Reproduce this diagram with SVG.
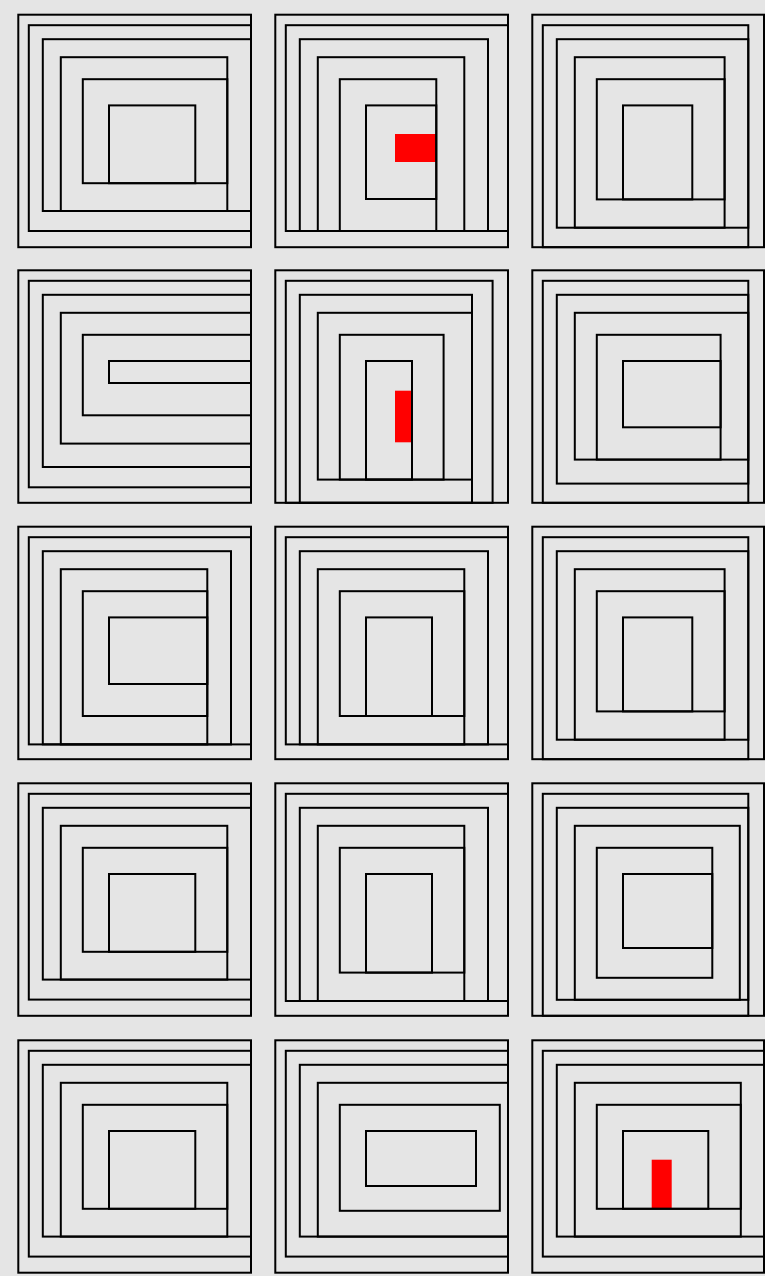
<svg xmlns="http://www.w3.org/2000/svg" width="765" height="1276" viewBox="0 0 765 1276">
<style>
rect.w{fill:none;stroke:#000;stroke-width:2}
rect.r{fill:#ff0000;stroke:none}
</style>
<rect x="0" y="0" width="765" height="1276" fill="#e5e5e5"/>
<g id="cell-0-0" transform="translate(18.3,14.7)">
<rect class="w" x="0" y="0" width="232.7" height="232.5"/>
<rect class="w" x="10.5" y="10.5" width="222.2" height="205.8"/>
<rect class="w" x="24.5" y="24.5" width="208.2" height="171.8"/>
<rect class="w" x="42.5" y="42.5" width="166.5" height="153.8"/>
<rect class="w" x="64.5" y="64.5" width="144.5" height="104"/>
<rect class="w" x="90.7" y="90.7" width="86.3" height="77.8"/>
</g>
<g id="cell-0-1" transform="translate(275.3,14.7)">
<rect class="r" x="119.7" y="119.3" width="41.3" height="28"/>
<rect class="w" x="0" y="0" width="232.7" height="232.5"/>
<rect class="w" x="10.5" y="10.5" width="222.2" height="205.8"/>
<rect class="w" x="24.5" y="24.5" width="188.2" height="191.8"/>
<rect class="w" x="42.5" y="42.5" width="146.5" height="173.8"/>
<rect class="w" x="64.5" y="64.5" width="96.5" height="151.8"/>
<rect class="w" x="90.7" y="90.7" width="70.3" height="93.6"/>
</g>
<g id="cell-0-2" transform="translate(532.3,14.7)">
<rect class="w" x="0" y="0" width="231.7" height="232.5"/>
<rect class="w" x="10.5" y="10.5" width="205.5" height="222"/>
<rect class="w" x="24.5" y="24.5" width="191.5" height="188.5"/>
<rect class="w" x="42.5" y="42.5" width="149.8" height="170.5"/>
<rect class="w" x="64.5" y="64.5" width="127.8" height="120.2"/>
<rect class="w" x="90.7" y="90.7" width="69.3" height="94"/>
</g>
<g id="cell-1-0" transform="translate(18.3,270.3)">
<rect class="w" x="0" y="0" width="232.7" height="232.5"/>
<rect class="w" x="10.5" y="10.5" width="222.2" height="206.5"/>
<rect class="w" x="24.5" y="24.5" width="208.2" height="172.2"/>
<rect class="w" x="42.5" y="42.5" width="190.2" height="130.8"/>
<rect class="w" x="64.5" y="64.5" width="168.2" height="80.5"/>
<rect class="w" x="90.7" y="90.7" width="142" height="22"/>
</g>
<g id="cell-1-1" transform="translate(275.3,270.3)">
<rect class="r" x="119.7" y="120.4" width="17" height="51.6"/>
<rect class="w" x="0" y="0" width="232.7" height="232.5"/>
<rect class="w" x="10.5" y="10.5" width="206.8" height="222"/>
<rect class="w" x="24.5" y="24.5" width="172.2" height="208"/>
<rect class="w" x="42.5" y="42.5" width="154.2" height="166.8"/>
<rect class="w" x="64.5" y="64.5" width="103.8" height="144.8"/>
<rect class="w" x="90.7" y="90.7" width="46" height="118.6"/>
</g>
<g id="cell-1-2" transform="translate(532.3,270.3)">
<rect class="w" x="0" y="0" width="231.7" height="232.5"/>
<rect class="w" x="10.5" y="10.5" width="205.5" height="222"/>
<rect class="w" x="24.5" y="24.5" width="191.5" height="188.8"/>
<rect class="w" x="42.5" y="42.5" width="173.5" height="146.8"/>
<rect class="w" x="64.5" y="64.5" width="123.8" height="124.8"/>
<rect class="w" x="90.7" y="90.7" width="97.6" height="66.3"/>
</g>
<g id="cell-2-0" transform="translate(18.3,526.7)">
<rect class="w" x="0" y="0" width="232.7" height="232.5"/>
<rect class="w" x="10.5" y="10.5" width="222.2" height="207.2"/>
<rect class="w" x="24.5" y="24.5" width="188.2" height="193.2"/>
<rect class="w" x="42.5" y="42.5" width="146.5" height="175.2"/>
<rect class="w" x="64.5" y="64.5" width="124.5" height="124.8"/>
<rect class="w" x="90.7" y="90.7" width="98.3" height="66.6"/>
</g>
<g id="cell-2-1" transform="translate(275.3,526.7)">
<rect class="w" x="0" y="0" width="232.7" height="232.5"/>
<rect class="w" x="10.5" y="10.5" width="222.2" height="207.2"/>
<rect class="w" x="24.5" y="24.5" width="188.2" height="193.2"/>
<rect class="w" x="42.5" y="42.5" width="146.5" height="175.2"/>
<rect class="w" x="64.5" y="64.5" width="124.5" height="124.8"/>
<rect class="w" x="90.7" y="90.7" width="66" height="98.6"/>
</g>
<g id="cell-2-2" transform="translate(532.3,526.7)">
<rect class="w" x="0" y="0" width="231.7" height="232.5"/>
<rect class="w" x="10.5" y="10.5" width="205.5" height="222"/>
<rect class="w" x="24.5" y="24.5" width="191.5" height="188.5"/>
<rect class="w" x="42.5" y="42.5" width="149.8" height="170.5"/>
<rect class="w" x="64.5" y="64.5" width="127.8" height="120.2"/>
<rect class="w" x="90.7" y="90.7" width="69.3" height="94"/>
</g>
<g id="cell-3-0" transform="translate(18.3,783.3)">
<rect class="w" x="0" y="0" width="232.7" height="232.5"/>
<rect class="w" x="10.5" y="10.5" width="222.2" height="205.8"/>
<rect class="w" x="24.5" y="24.5" width="208.2" height="171.8"/>
<rect class="w" x="42.5" y="42.5" width="166.5" height="153.8"/>
<rect class="w" x="64.5" y="64.5" width="144.5" height="104"/>
<rect class="w" x="90.7" y="90.7" width="86.3" height="77.8"/>
</g>
<g id="cell-3-1" transform="translate(275.3,783.3)">
<rect class="w" x="0" y="0" width="232.7" height="232.5"/>
<rect class="w" x="10.5" y="10.5" width="222.2" height="207.2"/>
<rect class="w" x="24.5" y="24.5" width="188.2" height="193.2"/>
<rect class="w" x="42.5" y="42.5" width="146.5" height="175.2"/>
<rect class="w" x="64.5" y="64.5" width="124.5" height="124.8"/>
<rect class="w" x="90.7" y="90.7" width="66" height="98.6"/>
</g>
<g id="cell-3-2" transform="translate(532.3,783.3)">
<rect class="w" x="0" y="0" width="231.7" height="232.5"/>
<rect class="w" x="10.5" y="10.5" width="205.5" height="222"/>
<rect class="w" x="24.5" y="24.5" width="191.5" height="192"/>
<rect class="w" x="42.5" y="42.5" width="165" height="174"/>
<rect class="w" x="64.5" y="64.5" width="115.5" height="130"/>
<rect class="w" x="90.7" y="90.7" width="89.3" height="74"/>
</g>
<g id="cell-4-0" transform="translate(18.3,1040.3)">
<rect class="w" x="0" y="0" width="232.7" height="232.4"/>
<rect class="w" x="10.5" y="10.5" width="222.2" height="205.8"/>
<rect class="w" x="24.5" y="24.5" width="208.2" height="171.8"/>
<rect class="w" x="42.5" y="42.5" width="166.5" height="153.8"/>
<rect class="w" x="64.5" y="64.5" width="144.5" height="104"/>
<rect class="w" x="90.7" y="90.7" width="86.3" height="77.8"/>
</g>
<g id="cell-4-1" transform="translate(275.3,1040.3)">
<rect class="w" x="0" y="0" width="232.7" height="232.4"/>
<rect class="w" x="10.5" y="10.5" width="222.2" height="205.8"/>
<rect class="w" x="24.5" y="24.5" width="208.2" height="171.8"/>
<rect class="w" x="42.5" y="42.5" width="190.2" height="153.8"/>
<rect class="w" x="64.5" y="64.5" width="160" height="106"/>
<rect class="w" x="90.7" y="90.7" width="110" height="55"/>
</g>
<g id="cell-4-2" transform="translate(532.3,1040.3)">
<rect class="r" x="119.4" y="119.4" width="20" height="49"/>
<rect class="w" x="0" y="0" width="231.7" height="232.4"/>
<rect class="w" x="10.5" y="10.5" width="221.2" height="205.8"/>
<rect class="w" x="24.5" y="24.5" width="207.2" height="171.8"/>
<rect class="w" x="42.5" y="42.5" width="166" height="153.8"/>
<rect class="w" x="64.5" y="64.5" width="144" height="104"/>
<rect class="w" x="90.7" y="90.7" width="85.3" height="77.8"/>
</g>
</svg>
